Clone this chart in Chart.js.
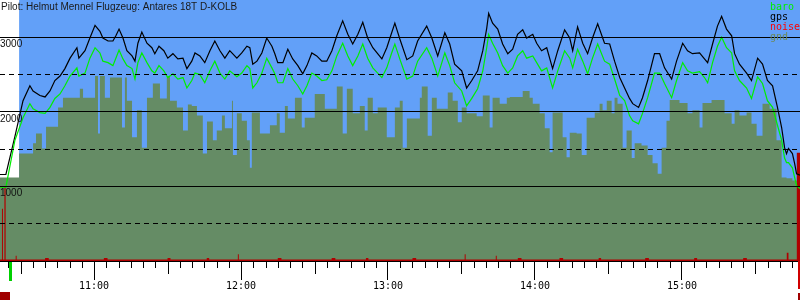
<!DOCTYPE html>
<html>
<head>
<meta charset="utf-8">
<script src="https://cdn.jsdelivr.net/npm/chart.js@4/dist/chart.umd.min.js"></script>
<style>
  html, body { margin: 0; padding: 0; background: #fff; }
  canvas { display: block; }
</style>
</head>
<body>
<canvas id="baroChart" width="800" height="300"></canvas>
<script>
const title = "Pilot: Helmut Mennel Flugzeug: Antares 18T D-KOLB";

// times are minutes after midnight, altitudes in metres
const flightTime = [
  621.6, 624.0, 627.7, 631.0, 633.8, 635.1, 637.9, 640.0, 642.0, 644.0,
  646.1, 648.1, 650.2, 653.0, 653.8, 656.3, 658.3, 660.4, 662.4, 663.6,
  665.7, 667.7, 668.9, 670.2, 671.8, 673.4, 675.5, 676.7, 677.9, 679.5,
  681.6, 683.6, 684.8, 686.5, 688.5, 690.1, 692.2, 694.2, 696.3, 697.9,
  699.9, 701.2, 703.2, 705.2, 707.3, 709.3, 711.4, 713.4, 715.4, 718.3,
  720.3, 722.4, 723.6, 724.8, 726.5, 728.5, 730.5, 732.6, 733.8, 735.0,
  737.1, 739.1, 741.1, 743.2, 745.2, 746.9, 748.9, 750.9, 753.0, 755.0,
  757.1, 759.1, 761.5, 763.6, 765.6, 767.7, 769.7, 771.7, 773.8, 777.5,
  779.5, 781.5, 782.8, 784.8, 787.7, 790.1, 792.1, 795.8, 797.9, 800.3,
  803.2, 805.2, 807.2, 810.1, 812.1, 814.2, 816.6, 818.7, 820.3, 821.1,
  822.7, 824.8, 826.8, 828.9, 830.9, 832.9, 835.0, 836.6, 839.1, 840.7,
  842.7, 844.8, 847.2, 849.3, 852.1, 854.2, 855.4, 857.4, 859.5, 861.5,
  863.5, 865.6, 868.4, 870.5, 872.5, 874.6, 876.6, 878.6, 879.9, 882.3,
  883.9, 886.0, 888.8, 890.9, 892.9, 895.8, 897.8, 900.3, 902.3, 904.3,
  907.2, 909.2, 910.5, 912.5, 914.5, 916.2, 918.2, 920.3, 921.5, 923.5,
  926.4, 928.4, 930.9, 932.9, 934.9, 937.0, 939.0, 940.7, 941.9, 942.7,
  943.5, 945.1, 946.0, 946.8, 948.2
];
const gpsAlt = [
  1160, 1160, 1670, 2150, 2350, 2280, 2220, 2200, 2280, 2420,
  2480, 2580, 2720, 2860, 2720, 2820, 2990, 3160, 3080, 2990,
  2950, 2950, 3020, 3110, 2990, 2820, 2750, 2680, 2920, 3070,
  2920, 2860, 2780, 2880, 2820, 2720, 2780, 2710, 2720, 2580,
  2680, 2790, 2750, 2660, 2820, 2950, 2820, 2720, 2820, 2720,
  2790, 2880, 2860, 2640, 2680, 2790, 2990, 2880, 2780, 2660,
  2660, 2840, 2710, 2620, 2510, 2620, 2790, 2750, 2680, 2680,
  2820, 3020, 3220, 3040, 2910, 3040, 3200, 2990, 2860, 2710,
  2860, 3060, 3190, 2980, 2700, 2750, 2950, 3150, 2990, 2750,
  3060, 2910, 2640, 2550, 2320, 2420, 2550, 2820, 3120, 3320,
  3190, 3110, 2910, 2780, 2840, 3040, 3100, 2990, 3040, 2920,
  2820, 2860, 2580, 2820, 3100, 2990, 2820, 3140, 2920, 2780,
  2990, 3180, 2920, 2910, 2680, 2460, 2320, 2180, 2110, 2060,
  2190, 2420, 2780, 2780, 2590, 2440, 2680, 2920, 2820, 2780,
  2790, 2710, 2660, 2910, 3150, 3280, 3110, 3020, 2780, 2640,
  2520, 2420, 2720, 2640, 2420, 2350, 2060, 1790, 1520, 1440,
  1510, 1440, 1310, 1170, 1150
];
const baroAlt = [
  990, 990, 1620, 1920, 2110, 2040, 1990, 1980, 2060, 2180,
  2240, 2350, 2480, 2590, 2480, 2520, 2720, 2860, 2790, 2680,
  2660, 2620, 2720, 2830, 2710, 2620, 2580, 2440, 2660, 2790,
  2660, 2550, 2520, 2620, 2550, 2460, 2510, 2440, 2460, 2320,
  2420, 2520, 2500, 2390, 2550, 2680, 2520, 2440, 2550, 2470,
  2520, 2620, 2580, 2320, 2390, 2520, 2720, 2590, 2510, 2390,
  2390, 2580, 2440, 2350, 2240, 2350, 2520, 2480, 2420, 2430,
  2550, 2750, 2920, 2750, 2620, 2750, 2910, 2720, 2590, 2460,
  2590, 2790, 2910, 2710, 2440, 2480, 2680, 2860, 2720, 2480,
  2790, 2620, 2390, 2280, 2080, 2180, 2310, 2550, 2860, 3040,
  2920, 2790, 2620, 2520, 2590, 2750, 2820, 2720, 2750, 2660,
  2550, 2590, 2320, 2550, 2820, 2720, 2590, 2840, 2680, 2510,
  2720, 2910, 2680, 2640, 2440, 2220, 2150, 1950, 1880, 1840,
  1980, 2190, 2520, 2520, 2380, 2190, 2420, 2660, 2550, 2520,
  2540, 2460, 2390, 2660, 2880, 3000, 2860, 2790, 2550, 2420,
  2320, 2180, 2470, 2380, 2150, 2060, 1820, 1620, 1380, 1320,
  1320, 1250, 1120, 1010, 970
];

const gndTime = [
  621.6, 629.4, 635.1, 636.3, 638.7, 640.4, 645.3, 647.3, 654.2, 655.5,
  660.4, 661.6, 662.4, 664.4, 666.5, 671.4, 672.6, 673.4, 675.5, 677.5,
  679.5, 681.6, 684.0, 686.9, 689.7, 691.0, 693.8, 696.3, 698.3, 699.9,
  702.0, 704.4, 706.1, 708.5, 710.1, 712.2, 713.4, 716.3, 716.7, 718.3,
  720.3, 722.4, 723.6, 724.4, 727.7, 731.8, 734.6, 735.8, 737.9, 739.1,
  742.0, 744.8, 746.0, 750.1, 754.2, 759.1, 761.5, 763.2, 765.6, 768.5,
  770.5, 771.7, 773.8, 775.8, 779.5, 782.8, 784.8, 786.0, 787.7, 793.0,
  793.8, 796.2, 797.9, 799.9, 804.4, 806.4, 808.5, 810.1, 812.1, 816.2,
  818.7, 821.5, 822.7, 825.6, 828.5, 829.7, 835.0, 837.8, 839.1, 841.9,
  844.0, 846.0, 847.2, 851.3, 852.9, 854.2, 857.0, 859.1, 861.1, 864.4,
  866.4, 867.6, 869.3, 871.3, 872.5, 873.7, 875.8, 877.4, 879.5, 880.7,
  883.5, 886.0, 888.0, 890.1, 891.7, 893.7, 895.0, 899.0, 902.3, 904.3,
  907.2, 908.4, 912.1, 917.4, 920.3, 921.5, 923.5, 926.4, 928.4, 930.5,
  932.9, 935.8, 938.6, 940.7, 942.7, 945.1, 948.2
];
const gndAlt = [
  1120, 1440, 1580, 1710, 1510, 1800, 2060, 2190, 2310, 2190,
  2480, 1710, 2480, 2190, 2460, 1790, 2460, 2150, 1660, 2020,
  1520, 2190, 2380, 2180, 2480, 2150, 2060, 1750, 2100, 2080,
  1950, 1440, 1870, 1620, 1750, 1950, 1780, 2150, 1420, 1980,
  1880, 1620, 1250, 1990, 1710, 1820, 1980, 1720, 2080, 1910,
  2190, 1790, 1920, 2240, 2040, 2340, 1710, 2310, 1980, 2080,
  1750, 2190, 1980, 2060, 1660, 2060, 2150, 1520, 1910, 2190,
  2340, 1680, 2190, 2040, 2260, 2150, 1860, 2060, 1980, 1940,
  2220, 1790, 2190, 2110, 2190, 2200, 2280, 2190, 2110, 1980,
  1780, 1460, 1990, 1660, 1390, 1720, 1710, 1420, 1920, 1990,
  2110, 2020, 2150, 1980, 2190, 2110, 1520, 1750, 1380, 1580,
  1550, 1420, 1310, 1170, 1520, 1880, 2160, 2120, 1980, 2020,
  1790, 2120, 2160, 1980, 1840, 2020, 1950, 1990, 1840, 1680,
  2110, 2040, 1620, 1120, 1110, 1080, 1080
];

const noiseTime = [
  621.6, 622.4, 622.8, 623.4, 623.9, 628.0, 628.4, 640.0, 641.5, 664.0,
  665.5, 690.0, 691.2, 706.0, 707.0, 718.7, 719.1, 735.0, 736.5, 757.0,
  758.5, 771.0, 772.0, 790.0, 791.5, 811.3, 811.7, 824.0, 824.4, 833.0,
  834.5, 850.0, 851.5, 866.0, 867.0, 885.0, 886.5, 905.0, 906.2, 925.0,
  926.5, 942.8, 943.5, 946.9, 948.2
];
const noiseVal = [
  20, 700, 20, 1000, 20, 70, 20, 40, 20, 40,
  20, 40, 20, 40, 20, 90, 20, 40, 20, 40,
  20, 40, 20, 40, 20, 90, 20, 70, 20, 40,
  20, 40, 20, 40, 20, 40, 20, 40, 20, 40,
  20, 110, 20, 1450, 1450
];

const hourTicks = [660, 720, 780, 840, 900];
const timeMin = 621.6;
const timeMax = 948.2;
const skyStart = 629.4;
const takeoff = 625.6;
const landing = 947.6;

const skyColor = "#62a0f8";

const pts = (t, v) => t.map((x, i) => ({ x: x, y: v[i] }));
const hhmm = (m) => Math.floor(m / 60) + ":" + String(Math.round(m % 60)).padStart(2, "0");

const decor = {
  id: "decor",
  beforeDatasetsDraw(chart) {
    const { ctx, chartArea: a, scales: { x } } = chart;
    const sx = x.getPixelForValue(skyStart);
    ctx.save();
    ctx.fillStyle = skyColor;
    ctx.fillRect(sx, a.top, a.right - sx, a.bottom - a.top);
    ctx.restore();
  },
  afterDraw(chart) {
    const { ctx, chartArea: a, scales: { x } } = chart;
    ctx.save();
    // 5 min and half hour ticks, the hours come from the scale
    ctx.strokeStyle = "#000";
    ctx.lineWidth = 1;
    ctx.beginPath();
    for (let t = Math.ceil(timeMin / 5) * 5; t <= timeMax; t += 5) {
      if (t % 60 === 0) continue;
      const px = Math.round(x.getPixelForValue(t)) + 0.5;
      ctx.moveTo(px, a.bottom);
      ctx.lineTo(px, a.bottom + (t % 30 === 0 ? 13 : 7));
    }
    ctx.stroke();

    // takeoff / landing marks
    const tx = x.getPixelForValue(takeoff);
    ctx.fillStyle = "#00d000";
    ctx.fillRect(Math.round(tx) - 1, a.bottom + 1, 3, 19);
    const lx = x.getPixelForValue(landing);
    ctx.fillStyle = "#d00000";
    ctx.fillRect(Math.round(lx) - 1, a.bottom, 3, 28);
    ctx.fillStyle = "#a00000";
    ctx.fillRect(Math.round(lx) - 1, a.bottom + 32, 3, 8);
    ctx.fillRect(0, a.bottom + 31, 10, 9);

    // title
    ctx.font = '10px "Liberation Sans", Arial, sans-serif';
    ctx.fillStyle = "#1a1a1a";
    ctx.textBaseline = "middle";
    ctx.textAlign = "left";
    ctx.fillText(title, 1, 7);

    // legend
    ctx.font = '10px "DejaVu Sans Mono", monospace';
    ctx.textBaseline = "top";
    chart.data.datasets.forEach((ds, i) => {
      ctx.fillStyle = ds.borderColor;
      ctx.fillText(ds.label, 770, 2 + i * 10);
    });
    ctx.restore();
  }
};

const config = {
  type: "line",
  data: {
    datasets: [
      {
        label: "baro",
        data: pts(flightTime, baroAlt),
        borderColor: "#00ee00",
        borderWidth: 1.2,
        pointRadius: 0,
        fill: false,
      },
      {
        label: "gps",
        data: pts(flightTime, gpsAlt),
        borderColor: "#000000",
        borderWidth: 1.2,
        pointRadius: 0,
        fill: false,
      },
      {
        label: "noise",
        data: pts(noiseTime, noiseVal),
        borderColor: "#ff0000",
        backgroundColor: "#b00000",
        borderWidth: 0,
        pointRadius: 0,
        stepped: true,
        fill: "origin",
      },
      {
        label: "gnd",
        data: pts(gndTime, gndAlt),
        borderColor: "#6b8a5c",
        backgroundColor: "#658c65",
        borderWidth: 0,
        pointRadius: 0,
        stepped: true,
        fill: "origin",
      },
    ],
  },
  options: {
    responsive: false,
    animation: false,
    devicePixelRatio: 1,
    layout: { padding: 0 },
    plugins: {
      legend: { display: false },
      title: { display: false },
      tooltip: { enabled: false },
    },
    scales: {
      x: {
        type: "linear",
        min: timeMin,
        max: timeMax,
        afterBuildTicks: (scale) => {
          scale.ticks = hourTicks.map((v) => ({ value: v }));
        },
        afterFit: (scale) => {
          scale.height = 39;
          scale.paddingLeft = 0;
          scale.paddingRight = 0;
        },
        grid: {
          drawOnChartArea: false,
          tickLength: 19,
          tickColor: "#000",
        },
        border: { display: true, color: "#000" },
        ticks: {
          autoSkip: false,
          maxRotation: 0,
          padding: 0,
          color: "#000",
          font: { family: "DejaVu Sans Mono", size: 10 },
          callback: (v) => hhmm(v),
        },
      },
      y: {
        min: 0,
        max: 3500,
        afterFit: (scale) => {
          scale.width = 0;
          scale.paddingTop = 0;
          scale.paddingBottom = 0;
        },
        grid: {
          z: 1,
          drawTicks: false,
          color: (c) => (c.tick && c.tick.value >= 3500 ? "rgba(0,0,0,0)" : "#000"),
          lineWidth: 1,
        },
        border: {
          display: false,
          dash: (c) => (c.tick && c.tick.value % 1000 !== 0 ? [5, 4] : []),
        },
        ticks: {
          z: 1,
          stepSize: 500,
          mirror: true,
          padding: 0,
          labelOffset: 7,
          autoSkip: false,
          color: "#111",
          font: { family: "Liberation Sans", size: 10 },
          callback: (v) => (v % 1000 === 0 && v > 0 && v < 3500 ? String(v) : ""),
        },
      },
    },
  },
  plugins: [decor],
};

new Chart(document.getElementById("baroChart"), config);
</script>
</body>
</html>
